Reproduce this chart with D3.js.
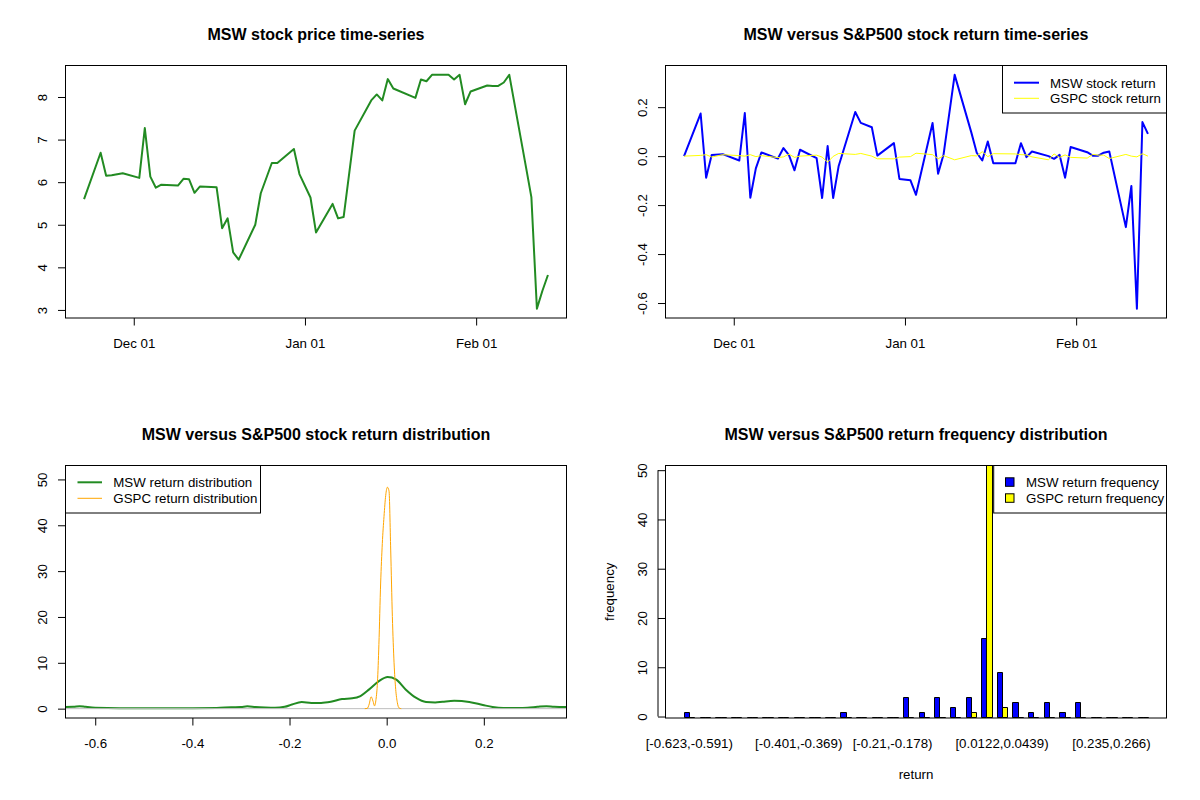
<!DOCTYPE html>
<html>
<head>
<meta charset="utf-8">
<script src="https://cdn.jsdelivr.net/npm/d3@7"></script>
<style>
	body { margin: 0; background: #fff; }
	text { font-family: 'Liberation Sans', Arial, sans-serif; }
</style>
</head>
<body>
<script>
//trading days shown on both time-series panels
let tradeDates = ['2024-11-22','2024-11-25','2024-11-26','2024-11-27','2024-11-29',
	'2024-12-02','2024-12-03','2024-12-04','2024-12-05','2024-12-06',
	'2024-12-09','2024-12-10','2024-12-11','2024-12-12','2024-12-13',
	'2024-12-16','2024-12-17','2024-12-18','2024-12-19','2024-12-20',
	'2024-12-23','2024-12-24','2024-12-26','2024-12-27','2024-12-30','2024-12-31',
	'2025-01-02','2025-01-03','2025-01-06','2025-01-07','2025-01-08','2025-01-10',
	'2025-01-13','2025-01-14','2025-01-15','2025-01-16','2025-01-17',
	'2025-01-21','2025-01-22','2025-01-23','2025-01-24',
	'2025-01-27','2025-01-28','2025-01-29','2025-01-30','2025-01-31',
	'2025-02-03','2025-02-04','2025-02-05','2025-02-06','2025-02-07',
	'2025-02-10','2025-02-11','2025-02-12','2025-02-13','2025-02-14'];

let mswPrice = [5.60,6.69,6.15,6.16,6.21,
	6.10,7.27,6.13,5.87,5.94,
	5.92,6.08,6.07,5.75,5.90,
	5.88,4.92,5.15,4.35,4.18,
	5.00,5.74,6.45,6.45,6.78,6.19,
	5.64,4.82,5.49,5.15,5.18,7.21,
	7.92,8.06,7.92,8.42,8.20,
	7.98,8.41,8.37,8.52,
	8.52,8.41,8.52,7.83,8.13,
	8.27,8.26,8.26,8.34,8.52,
	6.37,5.65,3.03,3.45,3.82];

let mswReturn = [0,0.174,-0.088,0.005,0.008,
	-0.018,0.176,-0.170,-0.050,0.015,
	-0.010,0.033,0.004,-0.058,0.026,
	-0.008,-0.171,0.041,-0.171,-0.040,
	0.180,0.136,0.118,0.002,0.053,-0.093,
	-0.099,-0.158,0.135,-0.072,0.008,0.332,
	0.098,0.014,-0.018,0.060,-0.029,
	-0.029,0.053,-0.004,0.019,
	0.000,-0.011,0.005,-0.088,0.037,
	0.016,0.002,0.002,0.014,0.019,
	-0.290,-0.122,-0.623,0.139,0.091];

let gspcReturn = [0,0.003,0.006,-0.004,0.006,
	0.002,0.000,0.006,-0.002,0.002,
	-0.006,-0.003,0.008,-0.005,0.000,
	0.004,-0.004,-0.025,-0.001,0.011,
	0.007,0.011,0.000,-0.011,-0.011,-0.004,
	-0.002,0.012,0.006,-0.011,0.002,-0.015,
	0.002,0.001,0.018,-0.002,0.010,
	0.009,0.006,0.005,-0.003,
	-0.015,0.009,-0.005,0.005,-0.005,
	-0.008,0.007,0.004,0.004,-0.010,
	0.007,0.000,-0.003,0.010,0.000];

//density curves
let mswDensX = [-0.67,-0.645,-0.632,-0.62,-0.6,-0.55,-0.5,-0.45,-0.4,-0.35,-0.32,-0.3,-0.287,-0.27,-0.25,-0.23,
	-0.21,-0.195,-0.175,-0.155,-0.135,-0.115,-0.092,-0.071,-0.054,-0.036,-0.016,0.002,0.019,0.039,0.06,
	0.081,0.1,0.115,0.139,0.17,0.198,0.218,0.24,0.27,0.29,0.31,0.329,0.345,0.37];
let mswDensY = [0.35,0.4,0.55,0.4,0.2,0.1,0.1,0.1,0.1,0.15,0.3,0.35,0.5,0.35,0.25,0.2,
	0.4,0.9,1.45,1.25,1.25,1.5,2.1,2.25,2.75,4.2,6.0,6.9,6.4,4.2,2.4,
	1.45,1.35,1.5,1.7,1.45,0.8,0.36,0.15,0.15,0.2,0.4,0.55,0.4,0.35];
let gspcDensX = [-0.045,-0.04,-0.036,-0.032,-0.028,-0.025,-0.022,-0.019,-0.016,-0.0124,-0.009,-0.0055,
	-0.002,0.0014,0.0048,0.0083,0.0117,0.0152,0.0186,0.022,0.0255,0.03];
let gspcDensY = [0,0.05,1.0,2.6,1.6,0.6,2.0,5.7,14,27.4,36,41.9,
	46.5,48.3,47.5,34.6,20.1,10,4.2,1.3,0.15,0];

//return frequency table
let binLabels = ['[-0.623,-0.591)','[-0.591,-0.56)','[-0.56,-0.528)','[-0.528,-0.496)','[-0.496,-0.464)',
	'[-0.464,-0.433)','[-0.433,-0.401)','[-0.401,-0.369)','[-0.369,-0.337)','[-0.337,-0.306)',
	'[-0.306,-0.274)','[-0.274,-0.242)','[-0.242,-0.21)','[-0.21,-0.178)','[-0.178,-0.147)',
	'[-0.147,-0.115)','[-0.115,-0.0831)','[-0.0831,-0.0514)','[-0.0514,-0.0196)','[-0.0196,0.0122)',
	'[0.0122,0.0439)','[0.0439,0.0757)','[0.0757,0.107)','[0.107,0.139)','[0.139,0.171)',
	'[0.171,0.203)','[0.203,0.235)','[0.235,0.266)','[0.266,0.298)','[0.298,0.33)'];
let mswFreq = [1,0,0,0,0,0,0,0,0,0,1,0,0,0,4,1,4,2,4,16,9,3,1,3,1,3,0,0,0,0];
let gspcFreq = [0,0,0,0,0,0,0,0,0,0,0,0,0,0,0,0,0,0,1,52,2,0,0,0,0,0,0,0,0,0];

let days = tradeDates.map(d3.timeParse('%Y-%m-%d'));

let svg = d3.select('body').append('svg')
	.attr('width', 1200)
	.attr('height', 800);
svg.append('rect').attr('width', 1200).attr('height', 800).attr('fill', '#fff');

//R style 4% axis padding
function pad(ext) {
	let s = (ext[1] - ext[0]) * 0.04;
	return [ext[0] - s, ext[1] + s];
}

//plot region of a panel in the 2x2 layout
function panel(col, row) {
	let x0 = 65.5 + col * 600, y0 = 65.5 + row * 400;
	return {x0: x0, x1: x0 + 501, y0: y0, y1: y0 + 252.5, id: 'clip' + col + row};
}

function frame(p, title) {
	svg.append('clipPath').attr('id', p.id)
		.append('rect')
		.attr('x', p.x0).attr('y', p.y0)
		.attr('width', p.x1 - p.x0).attr('height', p.y1 - p.y0);

	svg.append('text')
		.attr('x', (p.x0 + p.x1) / 2)
		.attr('y', p.y0 - 25.5)
		.attr('text-anchor', 'middle')
		.attr('font-weight', 'bold')
		.attr('font-size', '16px')
		.text(title);
}

function box(p) {
	svg.append('rect')
		.attr('x', p.x0).attr('y', p.y0)
		.attr('width', p.x1 - p.x0).attr('height', p.y1 - p.y0)
		.attr('fill', 'none')
		.attr('stroke', '#000');
}

function styleAxis(g) {
	g.attr('font-family', null).attr('font-size', null);
	g.select('.domain').remove();
	g.selectAll('text').style('font-size', '13.3px').attr('fill', '#000');
}

function xAxis(p, scale, values, fmt) {
	let g = svg.append('g')
		.attr('transform', 'translate(0,' + p.y1 + ')')
		.call(d3.axisBottom(scale).tickValues(values).tickFormat(fmt).tickSize(7.5).tickSizeOuter(0));
	styleAxis(g);
	g.selectAll('text').attr('y', 30).attr('dy', null);
	return g;
}

function yAxis(p, scale, values, fmt) {
	let g = svg.append('g')
		.attr('transform', 'translate(' + p.x0 + ',0)')
		.call(d3.axisLeft(scale).tickValues(values).tickFormat(fmt).tickSize(7.5).tickSizeOuter(0));
	styleAxis(g);
	g.selectAll('text')
		.attr('x', 0)
		.attr('dy', null)
		.attr('text-anchor', 'middle')
		.attr('transform', 'translate(-18.5,0) rotate(-90)');
	return g;
}

function legendBox(x0, x1, y0, y1) {
	svg.append('rect')
		.attr('x', x0).attr('y', y0)
		.attr('width', x1 - x0).attr('height', y1 - y0)
		.attr('fill', '#fff')
		.attr('stroke', '#000');
}

function legendText(x, y, label) {
	svg.append('text')
		.attr('x', x).attr('y', y + 4.8)
		.attr('font-size', '13.3px')
		.text(label);
}

let dateTicks = [new Date(2024, 11, 1), new Date(2025, 0, 1), new Date(2025, 1, 1)];
let dateFmt = d3.timeFormat('%b %d');
let oneDec = function(d) { return d.toFixed(1); };

///panel 1: price time-series///
let p1 = panel(0, 0);
frame(p1, 'MSW stock price time-series');
let x1 = d3.scaleTime().domain(pad(d3.extent(days, function(d) { return +d; }))).range([p1.x0, p1.x1]);
let y1 = d3.scaleLinear().domain(pad(d3.extent(mswPrice))).range([p1.y1, p1.y0]);

svg.append('path')
	.datum(mswPrice)
	.attr('clip-path', 'url(#' + p1.id + ')')
	.attr('fill', 'none')
	.attr('stroke', '#228B22')
	.attr('stroke-width', 2)
	.attr('stroke-linejoin', 'round')
	.attr('d', d3.line()
		.x(function(d, i) { return x1(days[i]); })
		.y(function(d) { return y1(d); }));
box(p1);
xAxis(p1, x1, dateTicks, dateFmt);
yAxis(p1, y1, [3, 4, 5, 6, 7, 8], d3.format('d'));

///panel 2: return time-series///
let p2 = panel(1, 0);
frame(p2, 'MSW versus S&P500 stock return time-series');
let x2 = d3.scaleTime().domain(x1.domain()).range([p2.x0, p2.x1]);
let y2 = d3.scaleLinear().domain(pad(d3.extent(mswReturn))).range([p2.y1, p2.y0]);

let retLine = d3.line()
	.x(function(d, i) { return x2(days[i]); })
	.y(function(d) { return y2(d); });

svg.append('path')
	.datum(mswReturn)
	.attr('clip-path', 'url(#' + p2.id + ')')
	.attr('fill', 'none')
	.attr('stroke', '#0000FF')
	.attr('stroke-width', 2)
	.attr('stroke-linejoin', 'round')
	.attr('d', retLine);

svg.append('path')
	.datum(gspcReturn)
	.attr('clip-path', 'url(#' + p2.id + ')')
	.attr('fill', 'none')
	.attr('stroke', '#FFFF00')
	.attr('stroke-width', 1)
	.attr('d', retLine);
box(p2);
xAxis(p2, x2, dateTicks, dateFmt);
yAxis(p2, y2, [-0.6, -0.4, -0.2, 0, 0.2], oneDec);

//legend
legendBox(1002.5, p2.x1, p2.y0, 113);
svg.append('line').attr('x1', 1014).attr('x2', 1039).attr('y1', 82.7).attr('y2', 82.7)
	.attr('stroke', '#0000FF').attr('stroke-width', 2);
svg.append('line').attr('x1', 1014).attr('x2', 1039).attr('y1', 98.3).attr('y2', 98.3)
	.attr('stroke', '#FFFF00').attr('stroke-width', 1);
legendText(1050, 82.7, 'MSW stock return');
legendText(1050, 98.3, 'GSPC stock return');

///panel 3: return density///
let p3 = panel(0, 1);
frame(p3, 'MSW versus S&P500 stock return distribution');
let x3 = d3.scaleLinear().domain(pad(d3.extent(mswReturn))).range([p3.x0, p3.x1]);
let y3 = d3.scaleLinear().domain(pad([0, 51])).range([p3.y1, p3.y0]);

svg.append('path')
	.datum(mswDensY)
	.attr('clip-path', 'url(#' + p3.id + ')')
	.attr('fill', 'none')
	.attr('stroke', '#228B22')
	.attr('stroke-width', 2)
	.attr('d', d3.line()
		.curve(d3.curveMonotoneX)
		.x(function(d, i) { return x3(mswDensX[i]); })
		.y(function(d) { return y3(d); }));

//zero line
svg.append('line')
	.attr('x1', p3.x0).attr('x2', p3.x1)
	.attr('y1', y3(0)).attr('y2', y3(0))
	.attr('stroke', '#BEBEBE');

svg.append('path')
	.datum(gspcDensY)
	.attr('clip-path', 'url(#' + p3.id + ')')
	.attr('fill', 'none')
	.attr('stroke', '#FFA500')
	.attr('stroke-width', 1)
	.attr('d', d3.line()
		.curve(d3.curveMonotoneX)
		.x(function(d, i) { return x3(gspcDensX[i]); })
		.y(function(d) { return y3(d); }));
box(p3);
xAxis(p3, x3, [-0.6, -0.4, -0.2, 0, 0.2], oneDec);
yAxis(p3, y3, [0, 10, 20, 30, 40, 50], d3.format('d'));

legendBox(p3.x0, 260.5, p3.y0, 513);
svg.append('line').attr('x1', 77.5).attr('x2', 102).attr('y1', 482.3).attr('y2', 482.3)
	.attr('stroke', '#228B22').attr('stroke-width', 2);
svg.append('line').attr('x1', 77.5).attr('x2', 102).attr('y1', 498.3).attr('y2', 498.3)
	.attr('stroke', '#FFA500').attr('stroke-width', 1);
legendText(113.3, 482.3, 'MSW return distribution');
legendText(113.3, 498.3, 'GSPC return distribution');

///panel 4: frequency bars///
let p4 = panel(1, 1);
frame(p4, 'MSW versus S&P500 return frequency distribution');
//barplot(beside=TRUE): each group is a gap of 1 then two bars of width 1
let nBins = binLabels.length;
let x4 = d3.scaleLinear().domain(pad([1, 3 * nBins])).range([p4.x0, p4.x1]);
let y4 = d3.scaleLinear().domain([-0.3, 50.95]).range([p4.y1, p4.y0]);

function barPath(left, value) {
	let a = Math.round(x4(left)) + 0.5, b = Math.round(x4(left + 1)) + 0.5;
	let top = Math.round(y4(value)) + 0.5, base = Math.round(y4(0)) + 0.5;
	return 'M' + a + ',' + base + 'V' + top + 'H' + b + 'V' + base + 'Z';
}

let barGroups = svg.append('g')
	.attr('clip-path', 'url(#' + p4.id + ')')
	.selectAll('g')
	.data(binLabels)
	.enter()
	.append('g');

barGroups.append('path')
	.attr('fill', '#0000FF')
	.attr('stroke', '#000')
	.attr('d', function(d, i) { return barPath(1 + 3 * i, mswFreq[i]); });

barGroups.append('path')
	.attr('fill', '#FFFF00')
	.attr('stroke', '#000')
	.attr('d', function(d, i) { return barPath(2 + 3 * i, gspcFreq[i]); });
box(p4);

//y axis of the barplot
let yAx4 = svg.append('g')
	.attr('transform', 'translate(' + p4.x0 + ',0)')
	.call(d3.axisLeft(y4).tickValues([0, 10, 20, 30, 40, 50]).tickFormat(d3.format('d')).tickSize(7.5).tickSizeOuter(0));
styleAxis(yAx4);
yAx4.selectAll('text')
	.attr('x', 0)
	.attr('dy', null)
	.attr('text-anchor', 'middle')
	.attr('transform', 'translate(-18.5,0) rotate(-90)');
svg.append('line')
	.attr('x1', p4.x0 - 7.5).attr('x2', p4.x0 - 7.5)
	.attr('y1', y4(0)).attr('y2', y4(50))
	.attr('stroke', '#000');

//bin labels, skipping any that would come too close to the last one drawn
let lastRight = -Infinity;
binLabels.forEach(function(label, i) {
	let t = svg.append('text')
		.attr('x', x4(2 + 3 * i))
		.attr('y', p4.y1 + 30)
		.attr('text-anchor', 'middle')
		.attr('font-size', '13.3px')
		.text(label);
	let w = t.node().getComputedTextLength();
	let left = x4(2 + 3 * i) - w / 2;
	if (left < lastRight + 8.7) {
		t.remove();
	} else {
		lastRight = left + w;
	}
});

svg.append('text')
	.attr('x', (p4.x0 + p4.x1) / 2)
	.attr('y', 778.5)
	.attr('text-anchor', 'middle')
	.attr('font-size', '13.3px')
	.text('return');

svg.append('text')
	.attr('transform', 'translate(614,' + ((p4.y0 + p4.y1) / 2) + ') rotate(-90)')
	.attr('text-anchor', 'middle')
	.attr('font-size', '13.3px')
	.text('frequency');

legendBox(993.7, p4.x1, p4.y0, 513);
svg.append('rect').attr('x', 1005.5).attr('y', 477.8).attr('width', 8.5).attr('height', 8.5)
	.attr('fill', '#0000FF').attr('stroke', '#000');
svg.append('rect').attr('x', 1005.5).attr('y', 493.8).attr('width', 8.5).attr('height', 8.5)
	.attr('fill', '#FFFF00').attr('stroke', '#000');
legendText(1026, 482.3, 'MSW return frequency');
legendText(1026, 498.3, 'GSPC return frequency');
</script>
</body>
</html>
